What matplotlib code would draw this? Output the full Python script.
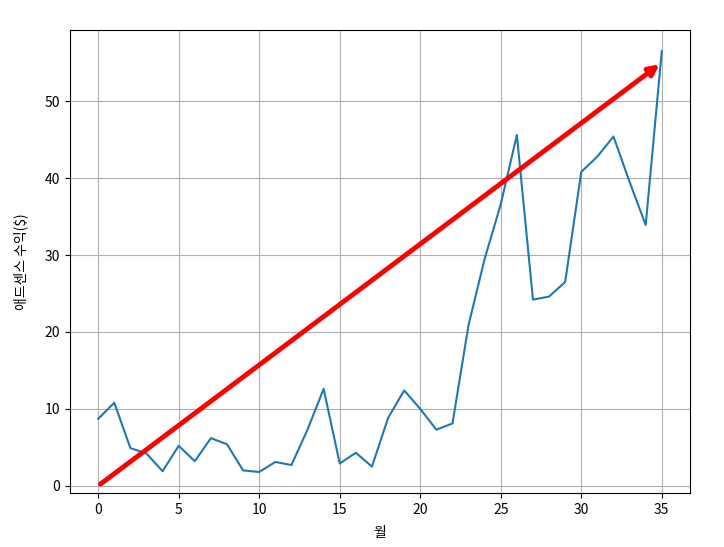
import matplotlib
matplotlib.use("Agg")
import matplotlib.pyplot as plt

plt.rcParams['font.family'] = ['Noto Sans CJK KR', 'DejaVu Sans']
plt.rcParams['axes.unicode_minus'] = False

months = list(range(36))
revenue = [8.7, 10.8, 4.9, 4.2, 1.9, 5.2, 3.2, 6.2, 5.4, 2.0,
           1.8, 3.1, 2.7, 7.3, 12.6, 2.9, 4.3, 2.5, 8.8, 12.4,
           10.0, 7.3, 8.1, 20.9, 29.5, 36.6, 45.6, 24.2, 24.6, 26.5,
           40.8, 42.8, 45.4, 39.5, 33.9, 56.5]
arrow_start = (0, 0)
arrow_end = (35, 55)

fig = plt.figure(figsize=(7.24, 5.47), dpi=100)
ax = fig.add_subplot(111)
fig.subplots_adjust(left=0.0967, right=0.953, top=0.945, bottom=0.0987)

ax.plot(months, revenue, color='#1f77b4')
ax.annotate('', xy=arrow_end, xytext=arrow_start,
            arrowprops=dict(arrowstyle='-|>', color='red', lw=3.5,
                            mutation_scale=15))
ax.grid(True)
ax.set_xlabel('월', labelpad=7)
ax.set_ylabel('애드센스 수익($)', labelpad=12)

fig.savefig('out.png', dpi=100)
